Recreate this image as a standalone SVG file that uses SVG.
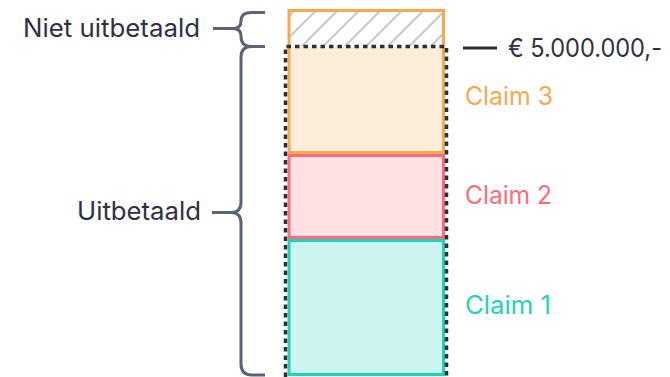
<svg xmlns="http://www.w3.org/2000/svg" width="670" height="377" viewBox="0 0 670 377">
  <style>
    .lbl { font-family: Inter, "Liberation Sans", sans-serif; font-size: 25px; font-weight: 400; }
    .dark { fill: #2e3142; }
    .brace { fill: none; stroke: #5d6376; stroke-width: 3; stroke-linecap: butt; stroke-linejoin: round; }
    .hatch { stroke: #c6c8ce; stroke-width: 2; }
  </style>
  <defs>
    <clipPath id="hatch-clip">
      <rect x="289" y="10.5" width="154.5" height="36"/>
    </clipPath>
  </defs>

  <!-- stacked bar: unpaid (hatched) + claim 3 share one orange frame -->
  <g id="niet-uitbetaald-blok">
    <rect x="289" y="10.5" width="154.5" height="36" fill="#ffffff"/>
    <g clip-path="url(#hatch-clip)" class="hatch">
      <line x1="249" y1="56" x2="299" y2="6"/>
      <line x1="270.5" y1="56" x2="320.5" y2="6"/>
      <line x1="292" y1="56" x2="342" y2="6"/>
      <line x1="313.5" y1="56" x2="363.5" y2="6"/>
      <line x1="335" y1="56" x2="385" y2="6"/>
      <line x1="356.5" y1="56" x2="406.5" y2="6"/>
      <line x1="378" y1="56" x2="428" y2="6"/>
      <line x1="399.5" y1="56" x2="449.5" y2="6"/>
      <line x1="421" y1="56" x2="471" y2="6"/>
    </g>
  </g>

  <g id="claim-3">
    <rect x="289" y="46.5" width="154.5" height="106" fill="#fdeedb"/>
    <rect x="289" y="10.5" width="154.5" height="142" fill="none" stroke="#f7aa4d" stroke-width="3"/>
    <text class="lbl" x="465" y="104.5" fill="#f7aa4d" textLength="88" lengthAdjust="spacingAndGlyphs">Claim 3</text>
  </g>

  <g id="claim-2">
    <rect x="289" y="155.5" width="154.5" height="82" fill="#ffe0e3" stroke="#ff6b78" stroke-width="3"/>
    <text class="lbl" x="465" y="203.5" fill="#ff6b78" textLength="87" lengthAdjust="spacingAndGlyphs">Claim 2</text>
  </g>

  <g id="claim-1">
    <rect x="289" y="240.5" width="154.5" height="134" fill="#ccf5ef" stroke="#1fd4b4" stroke-width="3"/>
    <text class="lbl" x="465" y="313.5" fill="#1fd4b4" textLength="86" lengthAdjust="spacingAndGlyphs">Claim 1</text>
  </g>

  <!-- insured limit: dashed outline around the paid part -->
  <g id="limiet">
    <path d="M285.5,377 V46.5 H446.5 V377" fill="none" stroke="#2c2f3a" stroke-width="3.5" stroke-dasharray="4.5 4"/>
    <line x1="463" y1="48" x2="497" y2="48" stroke="#2c2f3a" stroke-width="3"/>
    <text class="lbl dark" x="508" y="57" font-size="22.5" textLength="154" lengthAdjust="spacingAndGlyphs">€ 5.000.000,-</text>
  </g>

  <g id="connectors">
    <!-- small brace: unpaid -->
    <path class="brace" d="M265,12.5 H251 Q241,12.5 241,21 Q241,28.5 233,28.5 H213 M233,28.5 Q241,28.5 241,36 Q241,46.5 251,46.5 H265"/>
    <!-- large brace: paid -->
    <path class="brace" d="M265,46.5 H252 Q241,46.5 241,57 V202 Q241,212.5 231,212.5 H212 M231,212.5 Q241,212.5 241,223 V364 Q241,375 252,375 H265"/>
  </g>

  <g id="labels">
    <text class="lbl dark" x="23" y="36.5" font-size="26.5" textLength="177" lengthAdjust="spacingAndGlyphs">Niet uitbetaald</text>
    <text class="lbl dark" x="77" y="220" font-size="26.5" textLength="124" lengthAdjust="spacingAndGlyphs">Uitbetaald</text>
  </g>
</svg>
